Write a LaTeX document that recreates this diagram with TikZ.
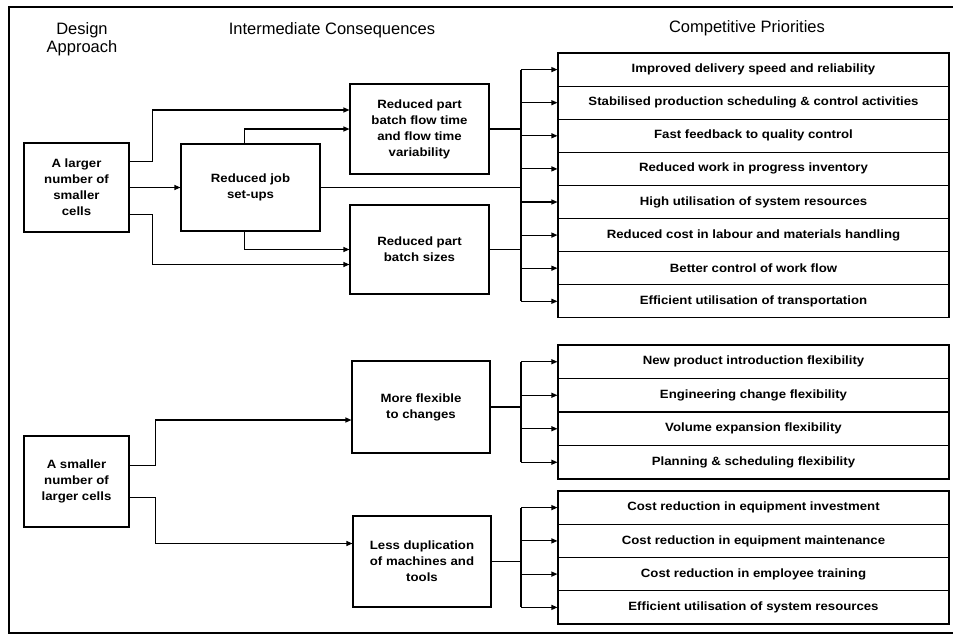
\documentclass[tikz,border=0pt]{standalone}
\usepackage{fontspec}
\setsansfont{Liberation Sans}
\newfontfamily\widefont[FakeStretch=1.1]{Liberation Sans}
\usetikzlibrary{arrows.meta}

\begin{document}
\begin{tikzpicture}[x=1pt, y=-1pt, font=\sffamily,
    box/.style={draw, line width=1.1pt, inner sep=0pt, align=center,
      font=\widefont\bfseries\fontsize{12}{16}\selectfont},
    prio/.style={box, minimum width=391pt, minimum height=33.2pt},
    head/.style={font=\sffamily\fontsize{16.5}{18}\selectfont, align=center},
    link/.style={line width=1.1pt},
    arr/.style={link, -{Triangle[length=6pt, width=5pt]}}]
      \useasboundingbox (0, 0) rectangle (953, 637);
      \draw [line width=2pt] (953, 7) -- (9, 7) -- (9, 633) -- (953, 633);

      \node [head] (design) at (82, 39) {Design\\Approach};
      \node [head] (inter) at (332, 30) {Intermediate Consequences};
      \node [head] (compet) at (747, 28) {Competitive Priorities};

      \node [box, minimum width=105pt, minimum height=89pt] (large) at (76.5, 187.5) {A larger\\number of\\smaller\\cells};
      \node [box, minimum width=139pt, minimum height=87pt] (jobs) at (250.5, 187.5) {Reduced job\\set-ups};
      \node [box, minimum width=139pt, minimum height=90pt] (flow) at (419.5, 129) {Reduced part\\batch flow time\\and flow time\\variability};
      \node [box, minimum width=139pt, minimum height=89pt] (batch) at (419.5, 249.5) {Reduced part\\batch sizes};

      \node [box, minimum width=105pt, minimum height=91pt] (small) at (76.5, 481.5) {A smaller\\number of\\larger cells};
      \node [box, minimum width=138pt, minimum height=92pt] (flex) at (421, 407) {More flexible\\to changes};
      \node [box, minimum width=138pt, minimum height=91pt] (dupl) at (422, 561.5) {Less duplication\\of machines and\\tools};

      \node [prio] (p1) at (753.5, 69.6) {Improved delivery speed and reliability};
      \node [prio] (p2) at (753.5, 102.7) {Stabilised production scheduling \& control activities};
      \node [prio] (p3) at (753.5, 135.8) {Fast feedback to quality control};
      \node [prio] (p4) at (753.5, 168.9) {Reduced work in progress inventory};
      \node [prio] (p5) at (753.5, 202.0) {High utilisation of system resources};
      \node [prio] (p6) at (753.5, 235.1) {Reduced cost in labour and materials handling};
      \node [prio] (p7) at (753.5, 268.2) {Better control of work flow};
      \node [prio] (p8) at (753.5, 301.3) {Efficient utilisation of transportation};

      \node [prio, minimum height=33.5pt] (f1) at (753.5, 361.75) {New product introduction flexibility};
      \node [prio, minimum height=33.5pt] (f2) at (753.5, 395.25) {Engineering change flexibility};
      \node [prio, minimum height=33.5pt] (f3) at (753.5, 428.75) {Volume expansion flexibility};
      \node [prio, minimum height=33.5pt] (f4) at (753.5, 462.25) {Planning \& scheduling flexibility};

      \node [prio] (c1) at (753.5, 507.6) {Cost reduction in equipment investment};
      \node [prio] (c2) at (753.5, 540.9) {Cost reduction in equipment maintenance};
      \node [prio] (c3) at (753.5, 574.1) {Cost reduction in employee training};
      \node [prio] (c4) at (753.5, 607.4) {Efficient utilisation of system resources};

      \coordinate (bus1) at (521, 0);
      \coordinate (bus2) at (521, 0);
      \coordinate (bus3) at (521, 0);

      % larger number of smaller cells
      \draw [arr] ([yshift=26pt]large.east) -- ++(23, 0) |- ([yshift=19pt]flow.west);
      \draw [arr] (large.east) -- (jobs.west);
      \draw [arr] ([yshift=-27pt]large.east) -- ++(23, 0) |- ([yshift=-15pt]batch.west);
      \draw [arr] ([xshift=-6pt]jobs.north) |- (flow.west);
      \draw [arr] ([xshift=-6pt]jobs.south) |- (batch.west);

      \draw [link] (flow.east) -- (flow.east -| bus1);
      \draw [link] (jobs.east) -- (jobs.east -| bus1);
      \draw [link] (batch.east) -- (batch.east -| bus1);
      \draw [link] (bus1 |- p1.west) -- (bus1 |- p8.west);
      \draw [arr] (bus1 |- p1.west) -- (p1.west);
      \draw [arr] (bus1 |- p2.west) -- (p2.west);
      \draw [arr] (bus1 |- p3.west) -- (p3.west);
      \draw [arr] (bus1 |- p4.west) -- (p4.west);
      \draw [arr] (bus1 |- p5.west) -- (p5.west);
      \draw [arr] (bus1 |- p6.west) -- (p6.west);
      \draw [arr] (bus1 |- p7.west) -- (p7.west);
      \draw [arr] (bus1 |- p8.west) -- (p8.west);

      % smaller number of larger cells
      \draw [arr] ([yshift=16pt]small.east) -- ++(26, 0) |- ([yshift=-13pt]flex.west);
      \draw [arr] ([yshift=-16pt]small.east) -- ++(26, 0) |- ([yshift=18pt]dupl.west);

      \draw [link] (flex.east) -- (flex.east -| bus2);
      \draw [link] (bus2 |- f1.west) -- (bus2 |- f4.west);
      \draw [arr] (bus2 |- f1.west) -- (f1.west);
      \draw [arr] (bus2 |- f2.west) -- (f2.west);
      \draw [arr] (bus2 |- f3.west) -- (f3.west);
      \draw [arr] (bus2 |- f4.west) -- (f4.west);

      \draw [link] (dupl.east) -- (dupl.east -| bus3);
      \draw [link] (bus3 |- c1.west) -- (bus3 |- c4.west);
      \draw [arr] (bus3 |- c1.west) -- (c1.west);
      \draw [arr] (bus3 |- c2.west) -- (c2.west);
      \draw [arr] (bus3 |- c3.west) -- (c3.west);
      \draw [arr] (bus3 |- c4.west) -- (c4.west);
   \end{tikzpicture}
\end{document}
